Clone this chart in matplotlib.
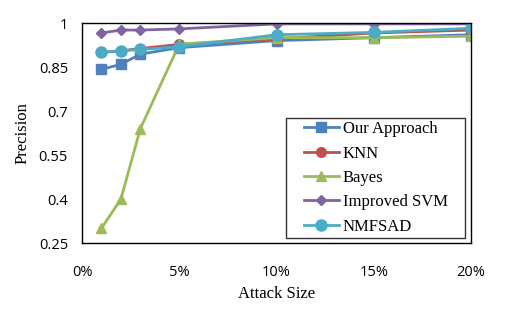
import matplotlib.pyplot as plt
from matplotlib.path import Path
from matplotlib.ticker import FuncFormatter

# ── Data ───────────────────────────────────────────────────────────────────────

attack_size = [1, 2, 3, 5, 10, 15, 20]   # percent

our_approach = [0.842, 0.859, 0.894, 0.916, 0.940, 0.950, 0.960]
knn          = [0.900, 0.905, 0.913, 0.927, 0.946, 0.966, 0.976]
bayes        = [0.300, 0.400, 0.640, 0.928, 0.950, 0.950, 0.955]
improved_svm = [0.966, 0.976, 0.976, 0.980, 0.997, 0.997, 0.997]
nmfsad       = [0.900, 0.905, 0.910, 0.919, 0.960, 0.968, 0.982]

y_ticks = [0.25, 0.4, 0.55, 0.7, 0.85, 1]
x_ticks = [0, 5, 10, 15, 20]


# Excel-style legend frame: wide side padding, tight top/bottom
def wide_box(x0, y0, width, height, mutation_size):
    px = 0.85 * mutation_size
    xa, xb = x0 - px, x0 + width + px
    ya, yb = y0, y0 + height
    return Path([(xa, ya), (xb, ya), (xb, yb), (xa, yb), (xa, ya)], closed=True)


# ── Plot ───────────────────────────────────────────────────────────────────────

fig = plt.figure(figsize=(5.24, 3.17), dpi=100)
ax = fig.add_axes([0.1565, 0.2334, 0.7425, 0.694])

series = [
    ("Our Approach", our_approach, "#4f81bd", "s", 7),
    ("KNN",          knn,          "#c0504d", "o", 7),
    ("Bayes",        bayes,        "#9bbb59", "^", 7),
    ("Improved SVM", improved_svm, "#8064a2", "D", 5),
    ("NMFSAD",       nmfsad,       "#4bacc6", "o", 8),
]
for label, vals, colour, marker, ms in series:
    ax.plot(attack_size, vals, color=colour, marker=marker, markersize=ms,
            linewidth=2, label=label)

ax.set_xlim(0, 20)
ax.set_ylim(0.25, 1)
ax.set_xticks(x_ticks)
ax.set_yticks(y_ticks)
ax.xaxis.set_major_formatter(FuncFormatter(lambda v, _: f"{v:.0f}%"))
ax.yaxis.set_major_formatter(FuncFormatter(lambda v, _: f"{v:g}"))
ax.tick_params(length=0, labelsize=10.5)
ax.tick_params(axis="x", pad=16)
ax.tick_params(axis="y", pad=10)
for lab in ax.get_xticklabels() + ax.get_yticklabels():
    lab.set_family("Open Sans")

for sp in ax.spines.values():
    sp.set_linewidth(1.0)
    sp.set_color("black")

ax.set_xlabel("Attack Size", family="Liberation Serif", fontsize=12, labelpad=4)
ax.set_ylabel("Precision", family="Liberation Serif", fontsize=12, labelpad=6)

leg = ax.legend(loc="lower right", bbox_to_anchor=(0.949, 0.023),
                borderaxespad=0,
                prop={"family": "Liberation Serif", "size": 12},
                frameon=True, fancybox=False, edgecolor="black",
                handlelength=2.1, handletextpad=0.25, labelspacing=0.5,
                borderpad=0.2)
leg.get_frame().set_linewidth(1.0)
leg.get_frame().set_boxstyle(wide_box)

fig.savefig("out.png", dpi=100)
